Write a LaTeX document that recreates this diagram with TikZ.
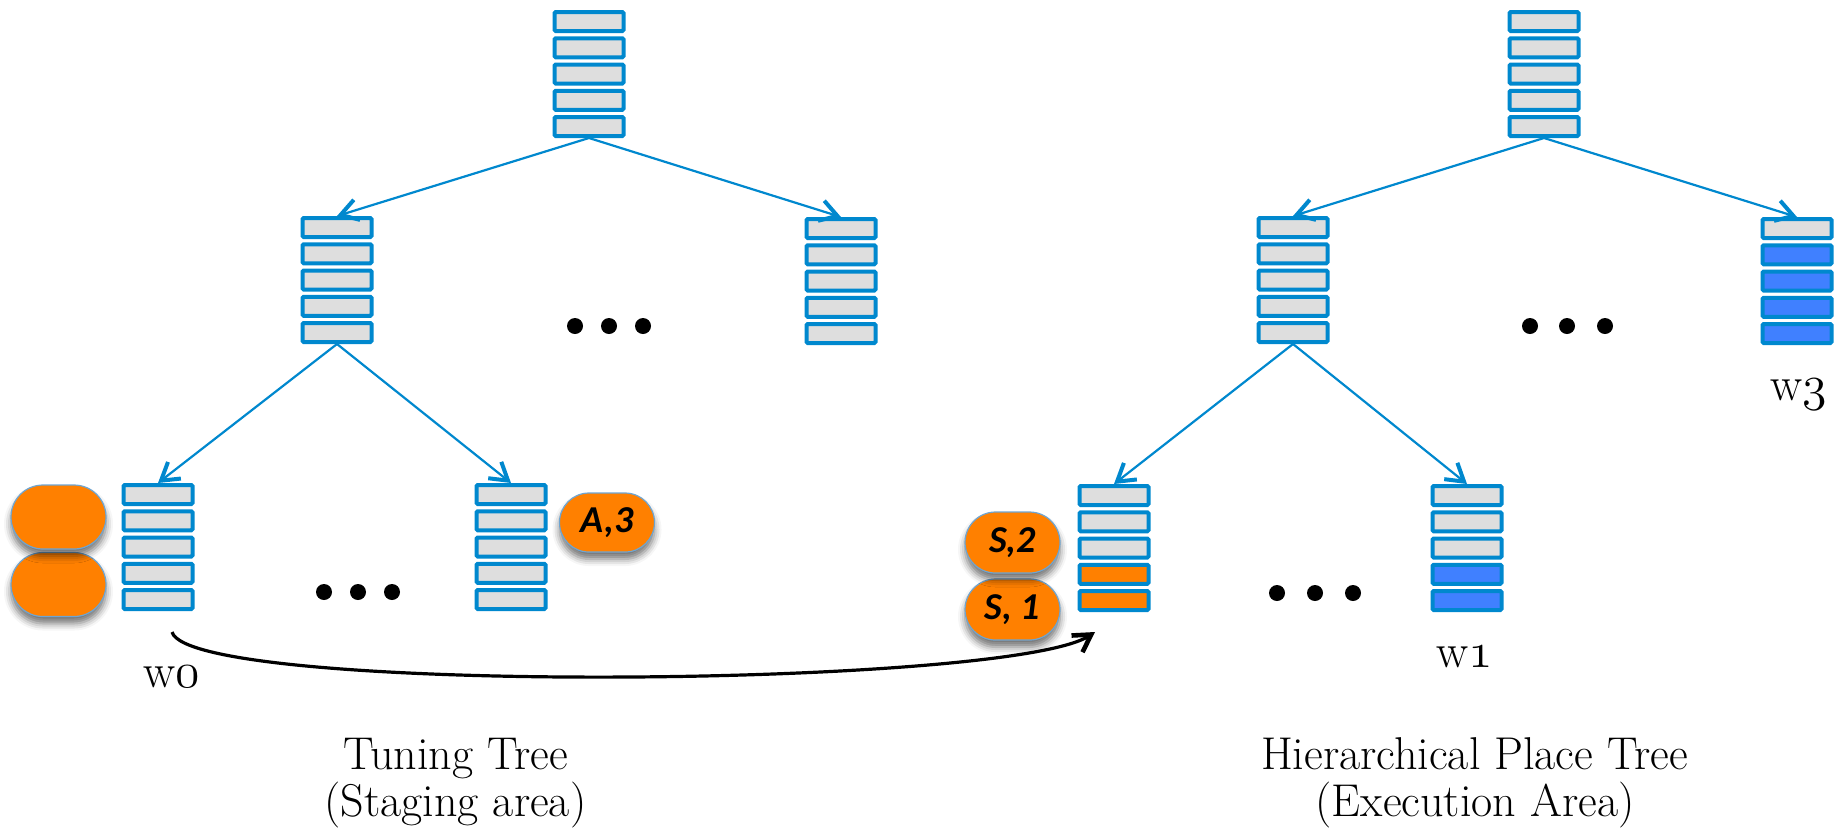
\documentclass[tikz,border=0pt]{standalone}
\usepackage{fontspec}
\newfontfamily\ovalfont{Carlito}
\usetikzlibrary{arrows.meta,shapes.misc,shadows.blur}

\definecolor{slotblue}{RGB}{0,136,206}
\definecolor{slotgrey}{RGB}{222,222,222}
\definecolor{taskorange}{RGB}{255,128,0}
\definecolor{busyblue}{RGB}{64,128,255}
\definecolor{ovalrim}{RGB}{110,165,210}

% old-style digits from the math italic font
\newcommand\osn[1]{{\fontencoding{OML}\fontfamily{cmm}\fontseries{m}\fontshape{it}\selectfont #1}}

\tikzset{
  stackframe/.style={rectangle, minimum width=36.5pt, minimum height=64pt, inner sep=0pt, outer sep=0pt},
  slot/.style={draw=slotblue, line width=2pt, rounded corners=0.6pt},
  link/.style={draw=slotblue, line width=1.1pt,
    -{Straight Barb[length=8.5pt,width=10.5pt,line width=2pt]}},
  move/.style={draw=black, line width=1.6pt,
    -{Straight Barb[length=8.5pt,width=10pt,line width=2.3pt]}},
  task/.style={rounded rectangle, fill=taskorange, draw=ovalrim, line width=0.6pt,
    minimum width=47.5pt, minimum height=32pt, inner sep=0pt,
    font=\ovalfont\bfseries\itshape\fontsize{19}{22}\selectfont,
    blur shadow={shadow xshift=0pt, shadow yshift=-3.5pt, shadow blur radius=3.5pt, shadow opacity=55}},
  dotmark/.style={circle, fill=black, minimum size=8pt, inner sep=0pt},
  wlabel/.style={anchor=base, inner sep=0pt, font=\fontsize{24}{28}\selectfont},
  title/.style={anchor=base, inner sep=0pt, font=\fontsize{23}{27}\selectfont},
}

% a queue of five slots: name, centre x, top y, slot colours
\newcommand\stackat[4]{%
  \node[stackframe] (#1) at (#2,#3+64) {};
  \foreach \c [count=\i from 0] in {#4}{%
    \path[slot, fill=\c] (#2-34.5,#3+2+\i*26.25) rectangle ++(69,19);
  }%
}

\begin{document}
\begin{tikzpicture}[x=0.5pt,y=-0.5pt]
\useasboundingbox (0,0) rectangle (1841,837);

% ---------- tuning tree ----------
\stackat{tuneRoot}{589}{10}{slotgrey,slotgrey,slotgrey,slotgrey,slotgrey}
\stackat{tuneMid}{337}{216}{slotgrey,slotgrey,slotgrey,slotgrey,slotgrey}
\stackat{tuneSide}{841}{217}{slotgrey,slotgrey,slotgrey,slotgrey,slotgrey}
\stackat{tuneW0}{158}{483}{slotgrey,slotgrey,slotgrey,slotgrey,slotgrey}
\stackat{tuneLeaf}{511}{483}{slotgrey,slotgrey,slotgrey,slotgrey,slotgrey}

\draw[link] (tuneRoot.south) -- (tuneMid.north);
\draw[link] (tuneRoot.south) -- (tuneSide.north);
\draw[link] (tuneMid.south) -- (tuneW0.north);
\draw[link] (tuneMid.south) -- (tuneLeaf.north);

\node[dotmark] (tuneDotA1) at (575,326) {};
\node[dotmark] (tuneDotA2) at (609,326) {};
\node[dotmark] (tuneDotA3) at (643,326) {};
\node[dotmark] (tuneDotB1) at (324,592) {};
\node[dotmark] (tuneDotB2) at (358,592) {};
\node[dotmark] (tuneDotB3) at (392,592) {};

\node[task] (taskW0b) at (58.5,584.5) {};
\node[task] (taskW0a) at (58.5,517) {};
\node[task, minimum height=29.5pt] (taskA3) at (607,522.5) {A,3};

\node[wlabel] (labelW0) at (172,687) {w\osn{0}};

% ---------- hierarchical place tree ----------
\stackat{hptRoot}{1544}{10}{slotgrey,slotgrey,slotgrey,slotgrey,slotgrey}
\stackat{hptMid}{1293}{216}{slotgrey,slotgrey,slotgrey,slotgrey,slotgrey}
\stackat{hptW3}{1797}{217}{slotgrey,busyblue,busyblue,busyblue,busyblue}
\stackat{hptS}{1114}{484}{slotgrey,slotgrey,slotgrey,taskorange,taskorange}
\stackat{hptW1}{1467}{484}{slotgrey,slotgrey,slotgrey,busyblue,busyblue}

\draw[link] (hptRoot.south) -- (hptMid.north);
\draw[link] (hptRoot.south) -- (hptW3.north);
\draw[link] (hptMid.south) -- (hptS.north);
\draw[link] (hptMid.south) -- (hptW1.north);

\node[dotmark] (hptDotA1) at (1530,326) {};
\node[dotmark] (hptDotA2) at (1567,326) {};
\node[dotmark] (hptDotA3) at (1605,326) {};
\node[dotmark] (hptDotB1) at (1277,593) {};
\node[dotmark] (hptDotB2) at (1315,593) {};
\node[dotmark] (hptDotB3) at (1353,593) {};

\node[task, minimum height=30.5pt] (taskS1) at (1012.5,609.5) {S, 1};
\node[task, minimum height=30.5pt] (taskS2) at (1012.5,542.5) {S,2};

\node[wlabel] (labelW1) at (1465,667) {w\osn{1}};
\node[wlabel] (labelW3) at (1799,400) {w\osn{3}};

% ---------- migration from staging to execution ----------
\coordinate (moveStart) at (172,632);
\coordinate (moveEnd) at (1095,632);
\draw[move] (moveStart) .. controls (190,695) and (1010,688) .. (moveEnd);

% ---------- captions ----------
\node[title] (tuneTitle) at (455.5,769) {Tuning Tree};
\node[title] (tuneSub) at (455.5,816) {(Staging area)};
\node[title] (hptTitle) at (1474.5,769) {Hierarchical Place Tree};
\node[title] (hptSub) at (1475,816) {(Execution Area)};
\end{tikzpicture}
\end{document}
